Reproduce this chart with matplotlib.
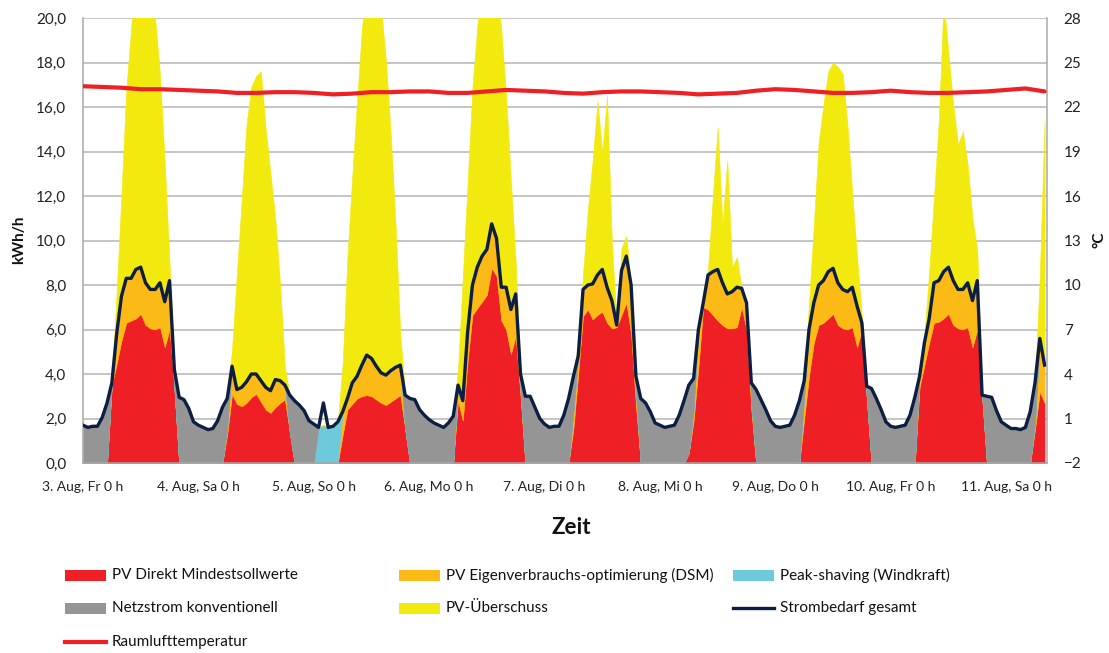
import numpy as np
import matplotlib
matplotlib.use("Agg")
import matplotlib.pyplot as plt
from matplotlib.patches import Rectangle
from matplotlib.lines import Line2D

plt.rcParams['font.family'] = ['Lato', 'DejaVu Sans']

# ---------------------------------------------------------------- data
# hourly values, hour 0 = 3. Aug 0 h
hours = np.arange(201)

strombedarf = [
    1.7, 1.6, 1.65, 1.65, 2.05, 2.7, 3.6, 5.8, 7.5, 8.3, 8.3, 8.7, 8.8, 8.1, 7.8, 7.8, 8.1, 7.25, 8.2, 4.2, 2.95, 2.85, 2.45, 1.85,
    1.7, 1.6, 1.5, 1.55, 1.9, 2.5, 2.9, 4.35, 3.3, 3.4, 3.65, 4.0, 4.0, 3.7, 3.4, 3.25, 3.75, 3.7, 3.5, 3.05, 2.8, 2.6, 2.35, 1.9,
    1.75, 1.6, 2.7, 1.6, 1.65, 1.85, 2.3, 2.9, 3.6, 3.9, 4.4, 4.85, 4.7, 4.35, 4.05, 3.95, 4.15, 4.3, 4.4, 3.05, 2.9, 2.85, 2.4, 2.15,
    1.95, 1.8, 1.7, 1.6, 1.8, 2.1, 3.5, 2.8, 5.9, 8.0, 8.8, 9.3, 9.6, 10.75, 10.1, 7.9, 7.9, 6.9, 7.6, 4.0, 3.0, 3.0, 2.5, 2.0,
    1.75, 1.6, 1.65, 1.65, 2.15, 2.9, 3.9, 4.8, 7.8, 8.0, 8.05, 8.45, 8.7, 7.9, 7.3, 6.2, 8.65, 9.3, 8.0, 3.9, 2.9, 2.7, 2.3, 1.8,
    1.7, 1.6, 1.65, 1.7, 2.15, 2.8, 3.5, 3.8, 6.0, 7.2, 8.45, 8.6, 8.7, 8.1, 7.6, 7.7, 7.9, 7.85, 7.2, 3.6, 3.3, 2.85, 2.4, 1.9,
    1.65, 1.6, 1.65, 1.7, 2.15, 2.8, 3.7, 6.0, 7.2, 8.0, 8.2, 8.6, 8.75, 8.1, 7.8, 7.7, 7.9, 7.05, 6.3, 3.45, 3.35, 2.9, 2.4, 1.85,
    1.65, 1.6, 1.65, 1.7, 2.15, 2.95, 3.9, 5.4, 6.5, 8.1, 8.2, 8.6, 8.8, 8.2, 7.8, 7.8, 8.1, 7.3, 8.2, 3.05, 3.0, 2.95, 2.35, 1.85,
    1.7, 1.55, 1.55, 1.5, 1.6, 2.3, 3.6, 5.6, 4.4,
]

pv_direkt = [
    0, 0, 0, 0, 0, 0, 3.5, 4.45, 5.5, 6.3, 6.4, 6.5, 6.7, 6.2, 6.05, 6.0, 6.1, 5.2, 6.0, 3.4, 0, 0, 0, 0,
    0, 0, 0, 0, 0, 0, 1.3, 3.1, 2.65, 2.55, 2.7, 2.95, 3.1, 2.75, 2.4, 2.25, 2.5, 2.7, 2.85, 1.4, 0, 0, 0, 0,
    0, 0, 0, 0, 0, 0, 1.25, 2.4, 2.65, 2.9, 3.0, 3.05, 3.0, 2.85, 2.7, 2.6, 2.75, 2.9, 3.05, 1.55, 0, 0, 0, 0,
    0, 0, 0, 0, 0, 0, 2.8, 1.9, 4.6, 6.65, 6.95, 7.25, 7.55, 8.75, 8.4, 6.4, 6.0, 4.9, 5.7, 3.0, 0, 0, 0, 0,
    0, 0, 0, 0, 0, 0, 1.55, 4.0, 6.6, 6.9, 6.45, 6.65, 6.8, 6.3, 6.05, 6.1, 6.65, 7.2, 5.8, 2.6, 0, 0, 0, 0,
    0, 0, 0, 0, 0, 0, 0.45, 1.9, 4.3, 7.0, 6.9, 6.65, 6.4, 6.2, 6.05, 6.05, 6.1, 7.0, 6.0, 2.4, 0, 0, 0, 0,
    0, 0, 0, 0, 0, 0, 2.0, 3.9, 5.4, 6.2, 6.3, 6.5, 6.7, 6.2, 6.05, 6.0, 6.1, 5.2, 6.0, 3.0, 0, 0, 0, 0,
    0, 0, 0, 0, 0, 0, 3.4, 4.4, 5.4, 6.3, 6.35, 6.5, 6.7, 6.2, 6.05, 6.0, 6.1, 5.2, 6.0, 3.05, 0, 0, 0, 0,
    0, 0, 0, 0, 0, 0, 1.5, 3.2, 2.7,
]

pv_dsm = [
    0, 0, 0, 0, 0, 0, 0.1, 1.35, 2.0, 2.0, 1.9, 2.2, 2.1, 1.9, 1.75, 1.8, 2.0, 2.05, 2.2, 0, 0, 0, 0, 0,
    0, 0, 0, 0, 0, 0, 0.3, 1.25, 0.65, 0.85, 0.95, 1.05, 0.9, 0.95, 1.0, 1.0, 1.25, 1.0, 0.65, 0, 0, 0, 0, 0,
    0, 0, 0, 0, 0, 0, 1.05, 0.5, 0.95, 1.0, 1.4, 1.8, 1.7, 1.5, 1.35, 1.35, 1.4, 1.4, 1.35, 0, 0, 0, 0, 0,
    0, 0, 0, 0, 0, 0, 0.7, 0.9, 1.3, 1.35, 1.85, 2.05, 2.05, 2.0, 1.7, 1.5, 1.9, 2.0, 1.9, 0.3, 0, 0, 0, 0,
    0, 0, 0, 0, 0, 0, 0.75, 0.8, 1.2, 1.1, 1.6, 1.8, 1.9, 1.6, 1.25, 0.1, 2.0, 2.1, 2.2, 0.5, 0, 0, 0, 0,
    0, 0, 0, 0, 0, 0, 0, 0.5, 1.7, 0.2, 1.55, 1.95, 2.3, 1.9, 1.55, 1.65, 1.8, 0.85, 1.2, 0.3, 0, 0, 0, 0,
    0, 0, 0, 0, 0, 0, 1.0, 2.1, 1.8, 1.8, 1.9, 2.1, 2.05, 1.9, 1.75, 1.7, 1.8, 1.85, 0.3, 0, 0, 0, 0, 0,
    0, 0, 0, 0, 0, 0, 0.5, 1.0, 1.1, 1.8, 1.85, 2.1, 2.1, 2.0, 1.75, 1.8, 2.0, 2.1, 2.2, 0, 0, 0, 0, 0,
    0, 0, 0, 0, 0, 0, 0.3, 2.4, 1.7,
]

peak_shaving = [
    0, 0, 0, 0, 0, 0, 0, 0, 0, 0, 0, 0, 0, 0, 0, 0, 0, 0, 0, 0, 0, 0, 0, 0,
    0, 0, 0, 0, 0, 0, 0, 0, 0, 0, 0, 0, 0, 0, 0, 0, 0, 0, 0, 0, 0, 0, 0, 0,
    0, 1.6, 1.7, 1.6, 1.65, 1.85, 0, 0, 0, 0, 0, 0, 0, 0, 0, 0, 0, 0, 0, 0, 0, 0, 0, 0,
    0, 0, 0, 0, 0, 0, 0, 0, 0, 0, 0, 0, 0, 0, 0, 0, 0, 0, 0, 0, 0, 0, 0, 0,
    0, 0, 0, 0, 0, 0, 0, 0, 0, 0, 0, 0, 0, 0, 0, 0, 0, 0, 0, 0, 0, 0, 0, 0,
    0, 0, 0, 0, 0, 0, 0, 0, 0, 0, 0, 0, 0, 0, 0, 0, 0, 0, 0, 0, 0, 0, 0, 0,
    0, 0, 0, 0, 0, 0, 0, 0, 0, 0, 0, 0, 0, 0, 0, 0, 0, 0, 0, 0, 0, 0, 0, 0,
    0, 0, 0, 0, 0, 0, 0, 0, 0, 0, 0, 0, 0, 0, 0, 0, 0, 0, 0, 0, 0, 0, 0, 0,
    0, 0, 0, 0, 0, 0, 0, 0, 0,
]

netzstrom = [
    1.7, 1.6, 1.65, 1.65, 2.05, 2.7, 0, 0, 0, 0, 0, 0, 0, 0, 0, 0, 0, 0, 0, 0.8, 2.95, 2.85, 2.45, 1.85,
    1.7, 1.6, 1.5, 1.55, 1.9, 2.5, 1.3, 0, 0, 0, 0, 0, 0, 0, 0, 0, 0, 0, 0, 1.65, 2.8, 2.6, 2.35, 1.9,
    1.75, 0, 0, 0, 0, 0, 0, 0, 0, 0, 0, 0, 0, 0, 0, 0, 0, 0, 0, 1.5, 2.9, 2.85, 2.4, 2.15,
    1.95, 1.8, 1.7, 1.6, 1.8, 2.1, 0, 0, 0, 0, 0, 0, 0, 0, 0, 0, 0, 0, 0, 0.7, 3.0, 3.0, 2.5, 2.0,
    1.75, 1.6, 1.65, 1.65, 2.15, 2.9, 1.6, 0, 0, 0, 0, 0, 0, 0, 0, 0, 0, 0, 0, 0.8, 2.9, 2.7, 2.3, 1.8,
    1.7, 1.6, 1.65, 1.7, 2.15, 2.8, 3.05, 1.4, 0, 0, 0, 0, 0, 0, 0, 0, 0, 0, 0, 0.9, 3.3, 2.85, 2.4, 1.9,
    1.65, 1.6, 1.65, 1.7, 2.15, 2.8, 0.7, 0, 0, 0, 0, 0, 0, 0, 0, 0, 0, 0, 0, 0.45, 3.35, 2.9, 2.4, 1.85,
    1.65, 1.6, 1.65, 1.7, 2.15, 2.95, 0, 0, 0, 0, 0, 0, 0, 0, 0, 0, 0, 0, 0, 0, 3.0, 2.95, 2.35, 1.85,
    1.7, 1.55, 1.55, 1.5, 1.6, 2.3, 1.8, 0, 0,
]

pv_ueberschuss = [
    0, 0, 0, 0, 0, 0, 0, 1.9, 4.6, 8.5, 11.2, 13.3, 14.2, 14.4, 13.2, 12.2, 9.4, 6.25, 0.8, 0, 0, 0, 0, 0,
    0, 0, 0, 0, 0, 0, 0.3, 0.75, 5.2, 8.4, 11.55, 12.9, 13.4, 13.9, 11.6, 9.75, 7.25, 4.3, 0.8, 0, 0, 0, 0, 0,
    0, 0, 0, 0, 0, 0, 2.15, 6.35, 9.3, 12.4, 15.1, 16.65, 18.3, 18.15, 16.45, 14.15, 10.65, 6.45, 1.4, 0, 0, 0, 0, 0,
    0, 0, 0, 0, 0, 0, 0.7, 5.6, 6.7, 8.9, 10.8, 12.7, 13.4, 12.25, 11.4, 11.6, 8.6, 5.8, 1.4, 0, 0, 0, 0, 0,
    0, 0, 0, 0, 0, 0, 0.3, 0.5, 0.7, 3.4, 5.55, 7.8, 5.25, 8.6, 2.6, 0, 1.0, 0.9, 0, 0, 0, 0, 0, 0,
    0, 0, 0, 0, 0, 0, 0, 0, 0, 0.5, 0.3, 3.4, 6.4, 2.6, 6.0, 1.1, 1.35, 0, 0, 0, 0, 0, 0, 0,
    0, 0, 0, 0, 0, 0, 0, 1.2, 3.5, 6.4, 7.9, 9.0, 9.25, 9.7, 9.7, 7.5, 4.2, 2.2, 0.3, 0, 0, 0, 0, 0,
    0, 0, 0, 0, 0, 0, 0, 0.3, 2.15, 3.85, 7.2, 12.2, 9.6, 7.9, 6.5, 7.1, 5.3, 3.7, 1.35, 0, 0, 0, 0, 0,
    0, 0, 0, 0, 0, 0, 0, 2.8, 11.0,
]

# room air temperature, every 4 hours
temp_hours = np.arange(0, 201, 4)
raumlufttemperatur = [
    23.4, 23.35, 23.3, 23.2, 23.2, 23.15, 23.1, 23.05, 22.95, 22.95, 23.0, 23.0, 22.95,
    22.85, 22.9, 23.0, 23.0, 23.05, 23.05, 22.95, 22.95, 23.05, 23.15, 23.1, 23.05, 22.95,
    22.9, 23.0, 23.05, 23.05, 23.0, 22.95, 22.85, 22.9, 22.95, 23.1, 23.2, 23.15, 23.05,
    22.95, 22.95, 23.0, 23.1, 23.0, 22.95, 22.95, 23.0, 23.05, 23.15, 23.25, 23.05,
]

day_ticks = np.arange(0, 193, 24)
day_labels = ["3. Aug, Fr 0 h", "4. Aug, Sa 0 h", "5. Aug, So 0 h", "6. Aug, Mo 0 h",
              "7. Aug, Di 0 h", "8. Aug, Mi 0 h", "9. Aug, Do 0 h", "10. Aug, Fr 0 h",
              "11. Aug, Sa 0 h"]

# ---------------------------------------------------------------- style
C_RED = "#EE1F25"
C_ORANGE = "#FBBA16"
C_CYAN = "#6CCADB"
C_GRAY = "#959595"
C_YELLOW = "#F2E90F"
C_NAVY = "#0C1E42"
C_GRID = "#B5B5B5"
C_AXIS = "#A8A8A8"

W, H = 1109, 653
fig = plt.figure(figsize=(W / 100, H / 100), dpi=100)
fig.patch.set_facecolor("white")


def fx(px):
    return px / W


def fy(py):
    return 1 - py / H


ax = fig.add_axes([fx(83), fy(463), fx(1047) - fx(83), fy(18) - fy(463)])

ax.stackplot(hours, pv_direkt, pv_dsm, peak_shaving, netzstrom, pv_ueberschuss,
             colors=[C_RED, C_ORANGE, C_CYAN, C_GRAY, C_YELLOW],
             edgecolor="face", linewidth=0.4, zorder=2)
ax.plot(hours, strombedarf, color=C_NAVY, lw=2.4, solid_joinstyle="round", zorder=4)

ax.set_xlim(0, 200.5)
ax.set_ylim(0, 20)
ax.set_yticks(np.arange(0, 21, 2))
ax.set_yticklabels([f"{v:.1f}".replace(".", ",") for v in np.arange(0, 21, 2)])
ax.set_xticks(day_ticks)
ax.set_xticklabels(day_labels)
ax.grid(axis="y", color=C_GRID, lw=1.1)
ax.set_axisbelow(True)
ax.tick_params(axis="y", length=0, pad=12, labelsize=11, labelcolor="#222222")
ax.tick_params(axis="x", length=0, pad=13, labelsize=10, labelcolor="#222222")
for side in ("top", "right"):
    ax.spines[side].set_visible(False)
for side in ("left", "bottom"):
    ax.spines[side].set_color(C_AXIS)
    ax.spines[side].set_linewidth(1.1)

ax2 = ax.twinx()
ax2.plot(temp_hours, raumlufttemperatur, color=C_RED, lw=3.0, solid_capstyle="round", zorder=5)
ax2.set_ylim(-2, 28)
ax2.set_yticks(np.arange(-2, 29, 3))
ax2.tick_params(axis="y", length=0, pad=12, labelsize=11, labelcolor="#222222")
for side in ("top", "left", "bottom"):
    ax2.spines[side].set_visible(False)
ax2.spines["right"].set_color(C_AXIS)
ax2.spines["right"].set_linewidth(1.1)

# axis titles
fig.text(fx(19), fy(240), "kWh/h", rotation=90, ha="center", va="center",
         fontsize=11, fontweight="bold", color="#111111")
fig.text(fx(1099), fy(240), "°C", rotation=90, ha="center", va="center",
         fontsize=11, fontweight="bold", color="#111111")
fig.text(fx(571), fy(527), "Zeit", ha="center", va="center",
         fontsize=16, fontweight="bold", color="#111111")

# legend
rows = [575, 608, 642]
cols = [65, 399, 733]
items = [
    ("patch", C_RED, "PV Direkt Mindestsollwerte", 0, 0),
    ("patch", C_ORANGE, "PV Eigenverbrauchs-optimierung (DSM)", 0, 1),
    ("patch", C_CYAN, "Peak-shaving (Windkraft)", 0, 2),
    ("patch", C_GRAY, "Netzstrom konventionell", 1, 0),
    ("patch", C_YELLOW, "PV-Überschuss", 1, 1),
    ("line", C_NAVY, "Strombedarf gesamt", 1, 2),
    ("line", C_RED, "Raumlufttemperatur", 2, 0),
]
for kind, color, label, r, c in items:
    x0, yc = cols[c], rows[r]
    if kind == "patch":
        fig.add_artist(Rectangle((fx(x0), fy(yc + 5.5)), fx(41), fy(0) - fy(11),
                                 transform=fig.transFigure, facecolor=color,
                                 edgecolor="none"))
    else:
        lw = 2.4 if color == C_NAVY else 3.0
        fig.add_artist(Line2D([fx(x0), fx(x0 + 41)], [fy(yc), fy(yc)],
                              transform=fig.transFigure, color=color, lw=lw))
    fig.text(fx(x0 + 47), fy(yc), label, ha="left", va="center",
             fontsize=11, color="#111111")

fig.savefig("out.png", dpi=100)
